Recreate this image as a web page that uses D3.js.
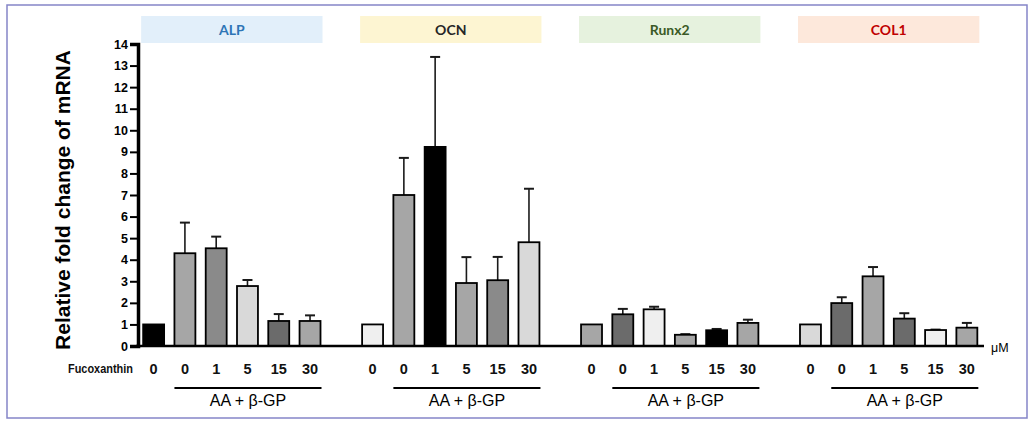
<!DOCTYPE html>
<html><head><meta charset="utf-8">
<script src="https://cdn.jsdelivr.net/npm/d3@7"></script>
<style>
html,body{margin:0;padding:0;background:#fff;}
svg{display:block;}
</style></head>
<body>
<svg id="chart" width="1036" height="424"></svg>
<script>
// ---- data ----
const genes = ["ALP", "OCN", "Runx2", "COL1"];
const doseLabels = ["0", "0", "1", "5", "15", "30"];
const yTicks = [0,1,2,3,4,5,6,7,8,9,10,11,12,13,14];

const alpMean   = [1.0, 4.30, 4.53, 2.78, 1.16, 1.16];
const alpErr    = [0,   1.42, 0.54, 0.28, 0.32, 0.26];
const ocnMean   = [1.0, 7.00, 9.23, 2.92, 3.05, 4.81];
const ocnErr    = [0,   1.72, 4.17, 1.20, 1.08, 2.48];
const runx2Mean = [1.0, 1.47, 1.70, 0.52, 0.73, 1.07];
const runx2Err  = [0,   0.25, 0.12, 0.03, 0.06, 0.15];
const col1Mean  = [1.0, 1.99, 3.23, 1.27, 0.74, 0.85];
const col1Err   = [0,   0.27, 0.43, 0.25, 0.02, 0.22];

const means = [alpMean, ocnMean, runx2Mean, col1Mean];
const errs  = [alpErr, ocnErr, runx2Err, col1Err];

// styling
const alpFill   = ["#000000", "#a6a6a6", "#8a8a8a", "#d9d9d9", "#6b6b6b", "#a6a6a6"];
const ocnFill   = ["#efefef", "#a6a6a6", "#000000", "#a6a6a6", "#8a8a8a", "#d9d9d9"];
const runx2Fill = ["#a6a6a6", "#6b6b6b", "#efefef", "#a6a6a6", "#000000", "#a6a6a6"];
const col1Fill  = ["#d9d9d9", "#6b6b6b", "#a6a6a6", "#6b6b6b", "#efefef", "#a6a6a6"];
const fills = [alpFill, ocnFill, runx2Fill, col1Fill];
const headerBg   = ["#e2effa", "#fdf5d2", "#e6f2de", "#fde8db"];
const headerText = ["#2e75b6", "#262626", "#3b5a26", "#c00000"];

// ---- build ----
const svg = d3.select("#chart");
const slotsPerGene = 7;
const nSlots = genes.length * slotsPerGene - 1;

const x = d3.scaleBand()
  .domain(d3.range(nSlots))
  .range([138, 982.5])
  .paddingInner(0.33)
  .paddingOuter(0.165);
const y = d3.scaleLinear().domain([0, 14]).range([346, 44]);

const bars = [];
genes.forEach((g, gi) => {
  means[gi].forEach((m, i) => {
    bars.push({gene: g, gi, i, slot: gi * slotsPerGene + i, mean: m, err: errs[gi][i], fill: fills[gi][i], label: doseLabels[i]});
  });
});

const sans = "'Liberation Sans', Arial, sans-serif";

// frame
svg.append("rect").attr("x", 7).attr("y", 5).attr("width", 1020).attr("height", 413)
  .attr("fill", "none").attr("stroke", "#8585c8").attr("stroke-width", 1.5);

// headers
const bw = x.bandwidth();
genes.forEach((g, gi) => {
  const x0 = x(gi * slotsPerGene) - 2;
  const x1 = x(gi * slotsPerGene + 5) + bw + 2;
  svg.append("rect").attr("x", x0).attr("y", 16).attr("width", x1 - x0).attr("height", 27)
    .attr("fill", headerBg[gi]);
  svg.append("text").attr("x", (x0 + x1) / 2).attr("y", 34.5)
    .attr("text-anchor", "middle").attr("font-family", "Lato, 'Open Sans', sans-serif")
    .attr("font-weight", "bold").attr("font-size", 14).attr("fill", headerText[gi]).text(g);
});

// error bars
const eb = svg.append("g").attr("stroke", "#1a1a1a").attr("stroke-width", 1.6);
bars.filter(d => d.err > 0).forEach(d => {
  const cx = x(d.slot) + bw / 2;
  eb.append("line").attr("x1", cx).attr("x2", cx).attr("y1", y(d.mean)).attr("y2", y(d.mean + d.err));
  eb.append("line").attr("x1", cx - 5).attr("x2", cx + 5).attr("y1", y(d.mean + d.err)).attr("y2", y(d.mean + d.err)).attr("stroke-width", 2);
});

// bars
svg.append("g").selectAll("rect").data(bars).join("rect")
  .attr("x", d => x(d.slot))
  .attr("y", d => y(d.mean))
  .attr("width", bw)
  .attr("height", d => y(0) - y(d.mean))
  .attr("fill", d => d.fill)
  .attr("stroke", "#000").attr("stroke-width", 1.8);

// y axis
const yAxis = svg.append("g").attr("transform", "translate(138,0)")
  .call(d3.axisLeft(y).tickValues(yTicks).tickFormat(d3.format("d")).tickSize(8).tickPadding(2));
yAxis.select(".domain").attr("stroke", "#000").attr("stroke-width", 3.5);
yAxis.selectAll(".tick line").attr("stroke", "#000").attr("stroke-width", 2);
yAxis.selectAll(".tick text").attr("font-family", sans)
  .attr("font-weight", "bold").attr("font-size", 12.5).attr("fill", "#000");

// x axis line
svg.append("line").attr("x1", 136).attr("x2", 984).attr("y1", y(0)).attr("y2", y(0))
  .attr("stroke", "#000").attr("stroke-width", 2.5);

// μM
svg.append("text").attr("x", 991).attr("y", 352)
  .attr("font-family", sans).attr("font-size", 12.5).attr("fill", "#000").text("μM");

// dose labels
svg.append("g").selectAll("text").data(bars).join("text")
  .attr("x", d => x(d.slot) + bw / 2).attr("y", 374)
  .attr("text-anchor", "middle")
  .attr("font-family", sans)
  .attr("font-weight", "bold").attr("font-size", 14.5).attr("fill", "#111")
  .text(d => d.label);

svg.append("text").attr("x", 68).attr("y", 372.5)
  .attr("font-family", sans).attr("font-weight", "bold")
  .attr("textLength", 65).attr("lengthAdjust", "spacingAndGlyphs")
  .attr("font-size", 13).attr("fill", "#111").text("Fucoxanthin");

// treatment underline + labels
genes.forEach((g, gi) => {
  const x0 = x(gi * slotsPerGene + 1);
  const x1 = x(gi * slotsPerGene + 5) + bw + 1;
  svg.append("line").attr("x1", x0).attr("x2", x1).attr("y1", 388).attr("y2", 388)
    .attr("stroke", "#000").attr("stroke-width", 2);
  svg.append("text").attr("x", (x0 + x1) / 2).attr("y", 406)
    .attr("text-anchor", "middle").attr("font-family", sans)
    .attr("font-size", 16).attr("fill", "#000").text("AA + β-GP");
});

// y title
svg.append("text").attr("transform", "translate(70,200) rotate(-90)")
  .attr("text-anchor", "middle")
  .attr("font-family", sans)
  .attr("font-weight", "bold").attr("font-size", 21).attr("fill", "#000")
  .text("Relative fold change of mRNA");
</script>
</body></html>
